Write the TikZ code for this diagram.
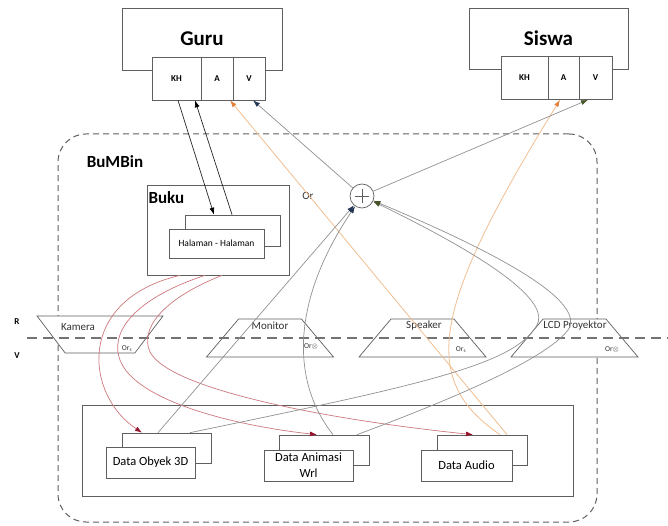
\documentclass[tikz,border=0pt]{standalone}
\usepackage{fontspec}
\setmainfont{Carlito}
\usetikzlibrary{arrows.meta,shapes.geometric}

\definecolor{boxgray}{RGB}{95,95,95}
\definecolor{linegray}{RGB}{145,145,145}
\definecolor{redline}{RGB}{205,120,125}
\definecolor{redtip}{RGB}{150,20,45}
\definecolor{orangeline}{RGB}{240,190,145}
\definecolor{orangetip}{RGB}{225,130,60}
\definecolor{bluetip}{RGB}{35,55,85}
\definecolor{greentip}{RGB}{70,85,40}

\begin{document}
\begin{tikzpicture}[x=1pt,y=-1pt,
  box/.style={draw=boxgray,line width=0.7pt,fill=white,inner sep=0pt},
  slot/.style={box,minimum height=43pt,font=\bfseries\fontsize{9}{10}\selectfont},
  screen/.style={draw=boxgray,line width=0.7pt,fill=white,trapezium,trapezium stretches=true,
    inner sep=2pt,minimum height=38pt,minimum width=127pt,trapezium left angle=63,trapezium right angle=63},
  tag/.style={font=\fontsize{11}{12}\selectfont,text=black!80},
  ortag/.style={font=\fontsize{7.5}{8}\selectfont,text=black!80},
  datatxt/.style={box,font=\fontsize{12.5}{16}\selectfont,align=center},
  kabel/.style={draw=linegray,line width=0.7pt},
  toblue/.style={kabel,-{Latex[length=7pt,width=5pt,color=bluetip]}},
  togreen/.style={kabel,-{Latex[length=7pt,width=5pt,color=greentip]}},
  toblack/.style={draw=black!85,line width=0.7pt,-{Latex[length=7pt,width=5pt,color=black]}},
  tored/.style={draw=redline,line width=0.7pt,-{Latex[length=7pt,width=5pt,color=redtip]}},
  toorange/.style={draw=orangeline,line width=0.8pt,-{Latex[length=7pt,width=5pt,color=orangetip]}}]
  \useasboundingbox (0,0) rectangle (668,526);

  % BuMBin frame
  \node[draw=boxgray,dash pattern=on 6pt off 4pt,line width=1pt,rounded corners=28pt,
    minimum width=539pt,minimum height=388pt,inner sep=0pt] (bumbin) at (327.5,328) {};
  \node[font=\bfseries\fontsize{17}{18}\selectfont] (bumbinlbl) at (115,162) {BuMBin};

  % Guru and Siswa
  \node[box,minimum width=160pt,minimum height=62pt,font=\bfseries\fontsize{21}{24}\selectfont] (guru) at (202,39) {Guru};
  \node[slot,minimum width=49pt] (guKH) at (176.5,78.5) {KH};
  \node[slot,minimum width=32pt] (guA) at (217,78.5) {A};
  \node[slot,minimum width=32pt] (guV) at (249,78.5) {V};

  \node[box,minimum width=159pt,minimum height=61pt,font=\bfseries\fontsize{21}{24}\selectfont] (siswa) at (548.5,38.5) {Siswa};
  \node[slot,minimum width=47pt] (siKH) at (524.5,78) {KH};
  \node[slot,minimum width=31pt] (siA) at (563.5,78) {A};
  \node[slot,minimum width=33pt] (siV) at (595.5,78) {V};

  % Buku
  \node[box,minimum width=142pt,minimum height=90pt] (buku) at (218,230) {};
  \node[anchor=west,font=\bfseries\fontsize{17}{18}\selectfont] (bukulbl) at (145,198) {Buku};
  \node[box,minimum width=95pt,minimum height=31pt] (halB) at (232.5,230.5) {};
  \node[box,minimum width=95pt,minimum height=29pt,font=\fontsize{9.5}{10}\selectfont] (halF) at (216.5,243.5) {Halaman - Halaman};

  % combiner
  \node[draw=boxgray,fill=white,circle,minimum size=24pt,inner sep=0pt,line width=0.7pt] (plus) at (362,196) {};
  \draw[boxgray,line width=0.7pt] ([xshift=-7pt]plus.center) -- ([xshift=7pt]plus.center)
    ([yshift=-7pt]plus.center) -- ([yshift=7pt]plus.center);
  \node[tag] (orlbl) at (308,196) {Or};

  % devices
  \node[screen,minimum width=126pt,minimum height=37pt,
    trapezium left angle=112,trapezium right angle=112] (kamera) at (100,334.5) {};
  \node[screen] (monitor) at (270,338) {};
  \node[screen] (speaker) at (422.5,338) {};
  \node[screen] (lcd) at (574.5,338) {};
  \node[tag] at (78,327) {Kamera};
  \node[ortag] at (127,349) {Or\textsubscript{s}};
  \node[tag] at (270,326) {Monitor};
  \node[ortag] at (311,346) {Or$\otimes$};
  \node[tag] at (424,326) {Speaker};
  \node[ortag] at (461,350) {Or\textsubscript{s}};
  \node[tag] at (575,326) {LCD Proyektor};
  \node[ortag] at (612,349) {Or$\otimes$};

  % R / V divider
  \coordinate (rvL) at (27,338);
  \coordinate (rvR) at (668,338);
  \draw[draw=black!55,line width=1.8pt,dash pattern=on 10pt off 6pt] (rvL) -- (rvR);
  \node[font=\bfseries\fontsize{9}{10}\selectfont] at (17,322) {R};
  \node[font=\bfseries\fontsize{9}{10}\selectfont] at (17,356) {V};

  % media data
  \node[box,minimum width=491pt,minimum height=91pt] (media) at (327.5,450.5) {};
  \node[box,minimum width=89pt,minimum height=30pt] (obyB) at (166.5,448) {};
  \node[datatxt,minimum width=89pt,minimum height=31pt] (obyF) at (150.5,462.5) {Data Obyek 3D};
  \node[box,minimum width=90pt,minimum height=30pt] (aniB) at (324,450) {};
  \node[datatxt,minimum width=89pt,minimum height=31pt] (aniF) at (308.5,465.5) {Data Animasi\\Wrl};
  \node[box,minimum width=90pt,minimum height=30pt] (audB) at (482,450) {};
  \node[datatxt,minimum width=91pt,minimum height=31pt] (audF) at (466.5,465.5) {Data Audio};

  % Guru <-> Buku
  \draw[toblack] ([xshift=1.5pt]guKH.south) -- ([xshift=-18.5pt]halB.north);
  \draw[toblack] ([xshift=-0.5pt]halB.north) -- ([xshift=18.5pt]guKH.south);

  % Buku to data
  \draw[tored] ([xshift=-38pt]buku.south) .. controls (75,300) and (85,395) .. ([xshift=-24.5pt]obyB.north);
  \draw[tored] ([xshift=-13pt]buku.south) .. controls (130,300) and (110,335) .. (120,360)
    .. controls (135,400) and (230,425) .. ([xshift=-7pt]aniB.north);
  \draw[tored] ([xshift=4pt]buku.south) .. controls (160,300) and (140,330) .. (150,352)
    .. controls (170,390) and (330,420) .. ([xshift=-9pt]audB.north);

  % audio
  \draw[toorange] ([xshift=25pt]audB.north) -- ([xshift=13pt]guA.south);
  \draw[toorange] ([xshift=18pt]audB.north) .. controls (420,380) and (430,310) .. ([xshift=-3.5pt]siA.south);

  % visual
  \draw[toblue] ([xshift=-8.5pt]obyB.north) -- (plus);
  \draw[toblue] ([xshift=9pt]aniB.north) .. controls (290,380) and (292,300) .. (plus);
  \draw[togreen] ([xshift=23.5pt]obyB.north) .. controls (420,385) and (515,365) .. (537,325)
    .. controls (548,305) and (510,268) .. (plus);
  \draw[togreen] ([xshift=33pt]aniB.north) .. controls (450,400) and (545,360) .. (568,330)
    .. controls (585,305) and (520,262) .. (plus);
  \draw[toblue] (plus) -- ([xshift=4pt]guV.south);
  \draw[togreen] (plus) -- ([xshift=-7.5pt]siV.south);
\end{tikzpicture}
\end{document}
